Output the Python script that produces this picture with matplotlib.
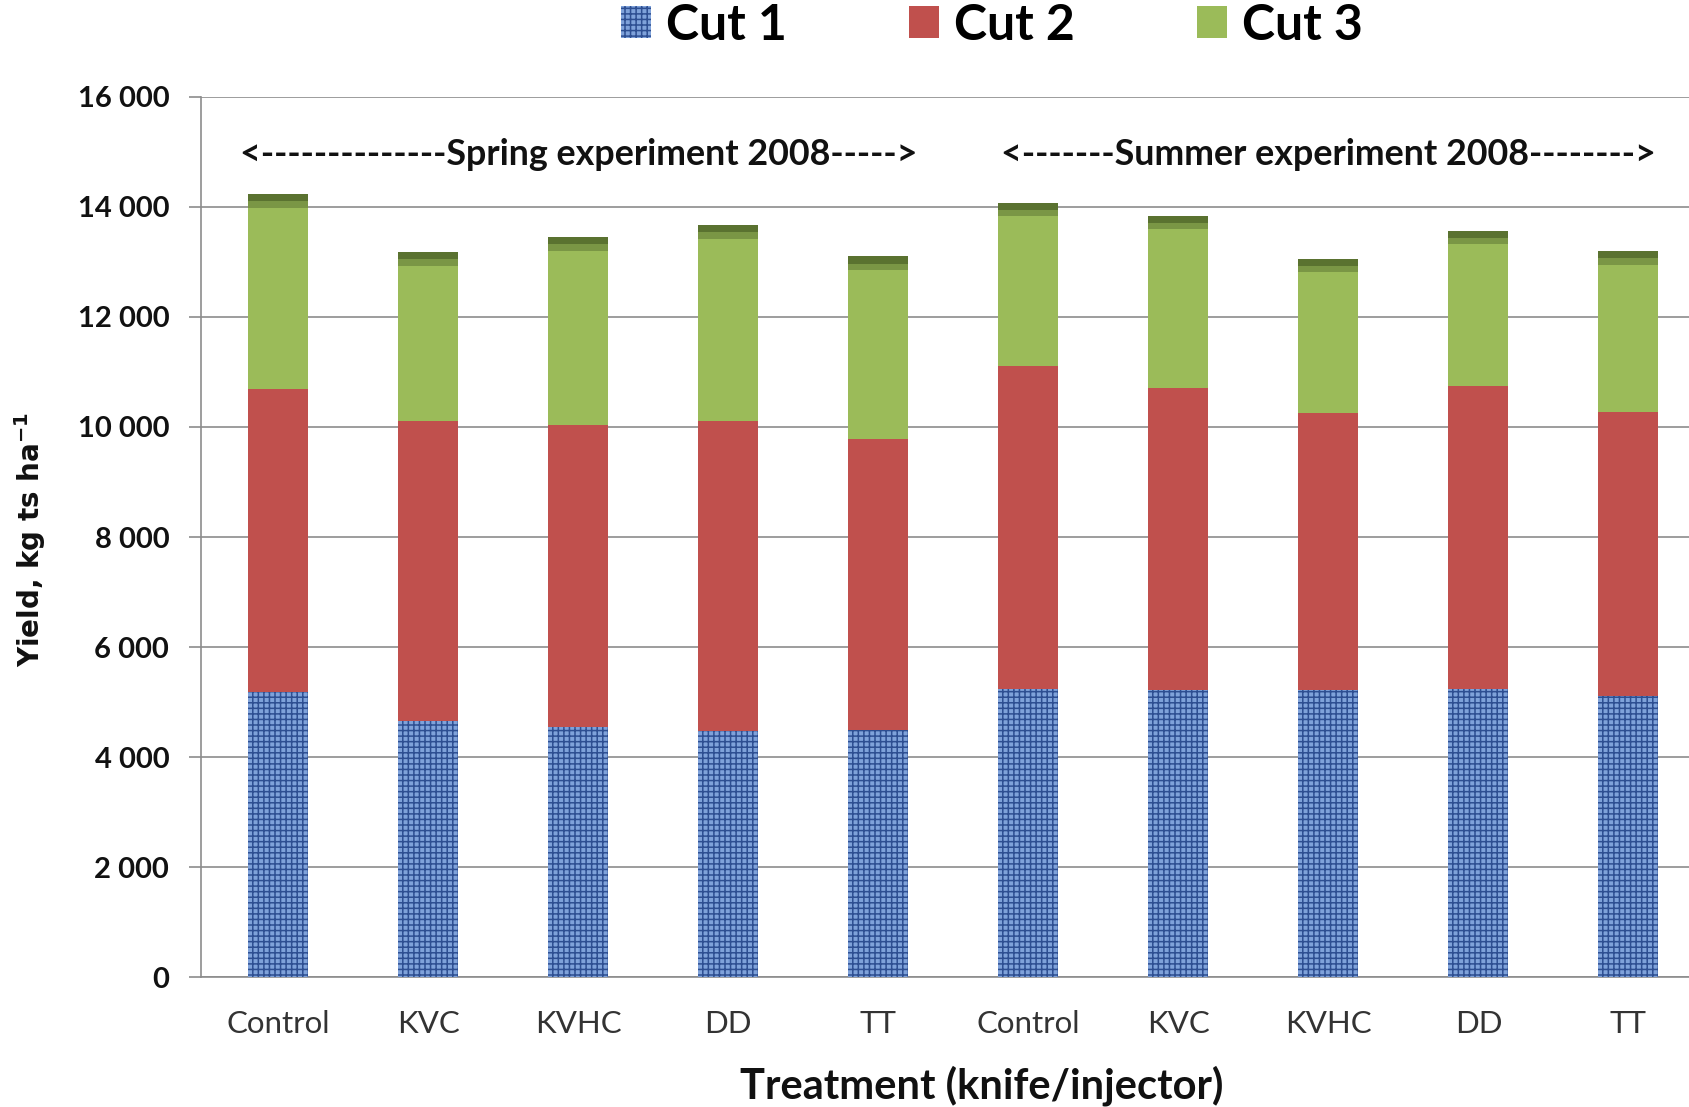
import matplotlib
matplotlib.use("Agg")
import matplotlib.pyplot as plt
from matplotlib.patches import Patch
import numpy as np

categories = ["Control", "KVC", "KVHC", "DD", "TT",
              "Control", "KVC", "KVHC", "DD", "TT"]
cut1 = [5190, 4660, 4545, 4465, 4485, 5230, 5210, 5210, 5230, 5110]
cut2 = [5500, 5445, 5500, 5640, 5305, 5875, 5505, 5050, 5520, 5170]
cut3 = [3550, 3075, 3410, 3565, 3310, 2975, 3130, 2800, 2820, 2920]
series_names = ["Cut 1", "Cut 2", "Cut 3"]
yticks = [0, 2000, 4000, 6000, 8000, 10000, 12000, 14000, 16000]
ytick_labels = ["0", "2 000", "4 000", "6 000", "8 000",
                "10 000", "12 000", "14 000", "16 000"]
group_labels = ["<--------------Spring experiment 2008----->",
                "<-------Summer experiment 2008-------->"]
group_centers = [2.0, 7.0]

c1_face, c1_hatch = "#7fa2da", "#2e4f92"
c2_face = "#c0504d"
c3_face, c3_dark = "#9bbb59", "#5a7230"

fig = plt.figure(figsize=(16.9, 11.07), dpi=100)
ax = fig.add_axes([0.119, 0.1174, 0.881, 0.795])

x = np.arange(len(categories))
w = 0.40
c1 = np.array(cut1); c2 = np.array(cut2); c3 = np.array(cut3)
plt.rcParams['hatch.linewidth'] = 1.1
ax.bar(x, c1, w, color=c1_face, edgecolor=c1_hatch, hatch="+++", linewidth=0, zorder=3)
ax.bar(x, c2, w, bottom=c1, color=c2_face, linewidth=0, zorder=3)
ax.bar(x, c3, w, bottom=c1 + c2, color=c3_face, linewidth=0, zorder=3)
# darker rim at the top of each stack (bevel look)
ax.bar(x, np.full(len(x), 130), w, bottom=c1 + c2 + c3 - 130, color=c3_dark, linewidth=0, zorder=4)
ax.bar(x, np.full(len(x), 120), w, bottom=c1 + c2 + c3 - 250, color="#7a9645", linewidth=0, zorder=4)

ax.set_xlim(-0.514, 9.41)
ax.set_ylim(0, 16000)
ax.set_yticks(yticks)
ax.set_yticklabels(ytick_labels, fontfamily="Lato", fontweight="bold", fontsize=21, color="#111111")
ax.set_xticks(x)
ax.set_xticklabels(categories, fontfamily="Lato", fontsize=22.5, color="#333333")
ax.tick_params(axis="x", length=0, pad=24)
ax.tick_params(axis="y", length=9, width=1.2, color="#8c8c8c", pad=14)
ax.grid(axis="y", color="#8c8c8c", linewidth=1.2, zorder=0)
for s in ["top", "right"]:
    ax.spines[s].set_visible(False)
for s in ["left", "bottom"]:
    ax.spines[s].set_color("#8c8c8c")
    ax.spines[s].set_linewidth(1.2)

for cx, lab in zip(group_centers, group_labels):
    ax.text(cx, 14950, lab, ha="center", va="center", fontfamily="Lato",
            fontweight="bold", fontsize=25.8, color="#111111", zorder=5)

fig.text(0.018, 0.513, "Yield, kg ts ha$^{\\mathbf{-1}}$", rotation=90, ha="center", va="center",
         fontfamily="DejaVu Sans", fontweight="bold", fontsize=20, color="#111111")
fig.text(0.581, 0.019, "Treatment (knife/injector)", ha="center", va="center",
         fontfamily="Lato", fontweight="bold", fontsize=30, color="#111111")

handles = [Patch(facecolor=c1_face, edgecolor=c1_hatch, hatch="+++", linewidth=0),
           Patch(facecolor=c2_face, linewidth=0),
           Patch(facecolor=c3_face, linewidth=0)]
fig.legend(handles, series_names, loc="center", bbox_to_anchor=(0.587, 0.977), ncol=3,
           frameon=False, prop={"family": "Lato", "weight": "bold", "size": 36},
           handlelength=0.6, handleheight=0.6, handletextpad=0.3, columnspacing=2.45)

fig.savefig("out.png", dpi=100)
